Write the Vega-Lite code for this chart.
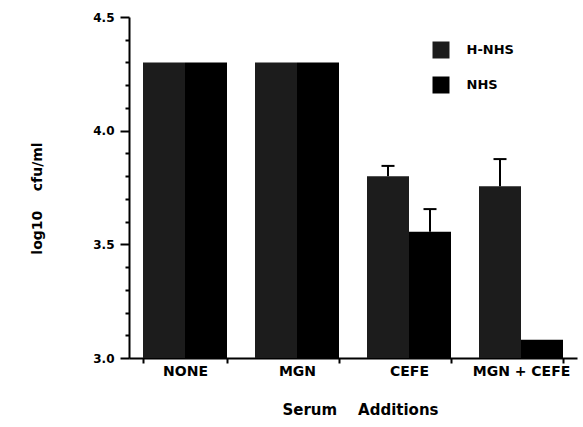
{
  "$schema": "https://vega.github.io/schema/vega-lite/v6.json",
  "width": 448,
  "height": 341,
  "autosize": {"type": "none"},
  "padding": {"left": 129, "top": 17, "right": 6, "bottom": 69},
  "background": "white",
  "config": {"view": {"stroke": null}, "font": "DejaVu Sans"},
  "data": {
    "values": [
      {"group": "NONE", "serum": "H-NHS", "value": 4.30, "upper": null},
      {"group": "NONE", "serum": "NHS", "value": 4.30, "upper": null},
      {"group": "MGN", "serum": "H-NHS", "value": 4.30, "upper": null},
      {"group": "MGN", "serum": "NHS", "value": 4.30, "upper": null},
      {"group": "CEFE", "serum": "H-NHS", "value": 3.80, "upper": 3.845},
      {"group": "CEFE", "serum": "NHS", "value": 3.555, "upper": 3.655},
      {"group": "MGN + CEFE", "serum": "H-NHS", "value": 3.755, "upper": 3.875},
      {"group": "MGN + CEFE", "serum": "NHS", "value": 3.08, "upper": null}
    ]
  },
  "layer": [
    {
      "mark": {"type": "bar"},
      "encoding": {
        "x": {
          "field": "group", "type": "nominal",
          "sort": ["NONE", "MGN", "CEFE", "MGN + CEFE"],
          "scale": {"paddingInner": 0.25, "paddingOuter": 0.125},
          "axis": {
            "title": "Serum\u00a0\u00a0\u00a0\u00a0Additions",
            "labelAngle": 0,
            "tickBand": "extent",
            "tickSize": 5,
            "tickWidth": 2,
            "tickColor": "black",
            "domainColor": "black",
            "domainWidth": 2,
            "labelFont": "DejaVu Sans",
            "labelFontWeight": "bold",
            "labelFontSize": 14,
            "labelColor": "black",
            "labelPadding": 1,
            "titleFont": "DejaVu Sans",
            "titleFontSize": 15,
            "titleFontWeight": "bold",
            "titleColor": "black",
            "titleX": 231,
            "titleY": 51,
            "titleBaseline": "middle",
            "titleAlign": "center"
          }
        },
        "xOffset": {"field": "serum", "type": "nominal", "sort": ["H-NHS", "NHS"], "scale": {"paddingInner": 0}},
        "y": {
          "field": "value", "type": "quantitative",
          "scale": {"domain": [3, 4.5], "zero": false, "nice": false},
          "axis": {
            "values": [3.0, 3.1, 3.2, 3.3, 3.4, 3.5, 3.6, 3.7, 3.8, 3.9, 4.0, 4.1, 4.2, 4.3, 4.4, 4.5],
            "tickCount": 40,
            "title": "log10\u00a0\u00a0\u00a0\u00a0cfu/ml",
            "labelExpr": "(datum.value == 3 || datum.value == 3.5 || datum.value == 4 || datum.value == 4.5) ? format(datum.value, '.1f') : ''",
            "tickSize": {"condition": {"test": "datum.value == 3 || datum.value == 3.5 || datum.value == 4 || datum.value == 4.5", "value": 9}, "value": 4},
            "tickWidth": 2,
            "tickColor": "black",
            "domainColor": "black",
            "domainWidth": 2,
            "grid": false,
            "labelFont": "DejaVu Sans",
            "labelFontWeight": "bold",
            "labelFontSize": 12,
            "labelColor": "black",
            "labelPadding": 6,
            "labelOverlap": false,
            "titleFont": "DejaVu Sans",
            "titleFontSize": 14,
            "titleFontWeight": "bold",
            "titleColor": "black",
            "titleAngle": -90,
            "titleX": -92,
            "titleY": 181,
            "titleBaseline": "middle",
            "titleAlign": "center"
          }
        },
        "y2": {"datum": 3},
        "color": {
          "field": "serum", "type": "nominal",
          "scale": {"domain": ["H-NHS", "NHS"], "range": ["#1c1c1c", "#000000"]},
          "legend": {
            "orient": "none",
            "legendX": 303.5,
            "legendY": 24.5,
            "title": null,
            "symbolType": "square",
            "symbolSize": 289,
            "symbolStrokeWidth": 0,
            "labelFont": "DejaVu Sans",
            "labelFontWeight": "bold",
            "labelFontSize": 13,
            "labelColor": "black",
            "labelOffset": 17,
            "rowPadding": 18,
            "padding": 0,
            "encode": {
              "symbols": {"update": {"fill": {"signal": "datum.value === 'H-NHS' ? '#484848' : '#000000'"}}}
            }
          }
        }
      }
    },
    {
      "transform": [{"filter": "datum.upper != null"}],
      "mark": {"type": "rule", "strokeWidth": 2, "color": "black"},
      "encoding": {
        "x": {"field": "group", "type": "nominal", "sort": ["NONE", "MGN", "CEFE", "MGN + CEFE"]},
        "xOffset": {"field": "serum", "type": "nominal", "sort": ["H-NHS", "NHS"]},
        "y": {"field": "value", "type": "quantitative"},
        "y2": {"field": "upper"}
      }
    },
    {
      "transform": [{"filter": "datum.upper != null"}],
      "mark": {"type": "tick", "orient": "horizontal", "thickness": 2, "size": 13, "color": "black", "opacity": 1},
      "encoding": {
        "x": {"field": "group", "type": "nominal", "sort": ["NONE", "MGN", "CEFE", "MGN + CEFE"]},
        "xOffset": {"field": "serum", "type": "nominal", "sort": ["H-NHS", "NHS"]},
        "y": {"field": "upper", "type": "quantitative"}
      }
    }
  ]
}
